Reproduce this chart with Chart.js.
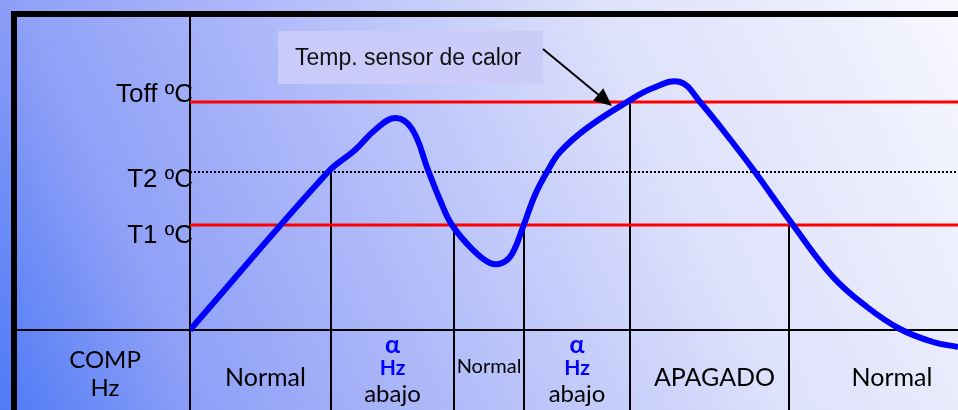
<!DOCTYPE html>
<html>
<head>
<meta charset="utf-8">
<script src="https://cdn.jsdelivr.net/npm/chart.js@4.4.0/dist/chart.umd.min.js"></script>
<style>
  html, body { margin: 0; padding: 0; }
  body {
    width: 958px; height: 410px; overflow: hidden;
    background: linear-gradient(65deg, #4e7af6 0%, #8fa0f7 18%, #b0bbf9 40%, #dde1fb 68%, #eaecfc 85%, #f7f8ff 100%);
  }
</style>
</head>
<body>
<canvas id="sensorChart" width="958" height="410"></canvas>
<script>
// Temperature thresholds
const thresholdNames = ['Toff ºC', 'T2 ºC', 'T1 ºC'];
const thresholdValues = [228, 158, 105];

// Heat sensor temperature over time
const timeValues = [0, 138, 165, 185, 205, 222, 238, 250, 262, 283, 300, 312, 322, 333, 345, 357, 370, 397, 437, 463, 490, 510, 543, 565, 603, 643, 677, 710, 743, 768];
const tempValues = [0, 158, 180, 200, 212, 201, 160, 130, 105, 80, 67, 67, 76, 103, 135, 158, 178, 202, 228, 242, 248, 228, 187, 158, 105, 53, 23, 1, -12, -17];

// Compressor phases: time boundaries, level where each inner boundary starts, names
const phaseEdges = [0, 141, 264, 334, 440, 599, 795];
const edgeLevels = [158, 105, 105, 228, 105];
const phaseNames = [['Normal'], ['α', 'Hz', 'abajo'], ['Normal'], ['α', 'Hz', 'abajo'], ['APAGADO'], ['Normal']];
const rowTitle = ['COMP', 'Hz'];

const noteText = 'Temp. sensor de calor';

const X_MAX = 768, Y_MIN = -80, Y_MAX = 313;

const datasets = [{
  data: timeValues.map((t, i) => ({ x: t, y: tempValues[i] })),
  borderColor: '#0000ff',
  borderWidth: 6,
  tension: 0.4,
  pointRadius: 0
}];

thresholdValues.forEach((v, i) => {
  const dotted = thresholdNames[i].startsWith('T2');
  datasets.push({
    data: [{ x: 0, y: v }, { x: X_MAX, y: v }],
    borderColor: dotted ? '#000000' : '#ff0000',
    borderWidth: dotted ? 2 : 3,
    borderDash: dotted ? [2, 2] : [],
    pointRadius: 0
  });
});

edgeLevels.forEach((lvl, i) => {
  const x = phaseEdges[i + 1];
  datasets.push({
    data: [{ x: x, y: lvl }, { x: x, y: Y_MIN }],
    borderColor: '#000000',
    borderWidth: 2,
    pointRadius: 0
  });
});

// frame, axis lines and all the text
const decor = {
  id: 'decor',
  beforeDatasetsDraw(chart) {
    const ctx = chart.ctx, xs = chart.scales.x, ys = chart.scales.y;
    const area = chart.chartArea;
    ctx.save();
    ctx.fillStyle = '#000';
    ctx.fillRect(11, 11, chart.width, 6);
    ctx.fillRect(11, 11, 6, chart.height);
    ctx.strokeStyle = '#000';
    ctx.lineWidth = 2;
    const x0 = xs.getPixelForValue(0), y0 = ys.getPixelForValue(0);
    ctx.beginPath();
    ctx.moveTo(x0, area.top); ctx.lineTo(x0, area.bottom);
    ctx.moveTo(17, y0); ctx.lineTo(chart.width, y0);
    ctx.stroke();
    ctx.restore();
  },
  afterDatasetsDraw(chart) {
    const ctx = chart.ctx, xs = chart.scales.x, ys = chart.scales.y;
    const y0 = ys.getPixelForValue(0);
    const x0 = xs.getPixelForValue(0);
    ctx.save();
    ctx.fillStyle = '#000';

    // threshold labels
    const drop = [0, 15, 18];
    ctx.font = '26px "Liberation Sans"';
    ctx.textAlign = 'right';
    ctx.textBaseline = 'alphabetic';
    thresholdNames.forEach((n, i) => {
      ctx.fillText(n, x0 + 3, ys.getPixelForValue(thresholdValues[i]) + drop[i]);
    });

    // row title
    ctx.textAlign = 'center';
    ctx.font = '24px Lato';
    ctx.fillText(rowTitle[0], 105, y0 + 38);
    ctx.fillText(rowTitle[1], 105, y0 + 66);

    // phase labels
    phaseNames.forEach((lines, i) => {
      const cx = xs.getPixelForValue((phaseEdges[i] + phaseEdges[i + 1]) / 2);
      const w = xs.getPixelForValue(phaseEdges[i + 1]) - xs.getPixelForValue(phaseEdges[i]);
      if (lines.length === 3) {
        ctx.fillStyle = '#0000ff';
        ctx.font = 'bold 25px Lato';
        ctx.fillText(lines[0], cx, y0 + 23);
        ctx.font = 'bold 21px Lato';
        ctx.fillText(lines[1], cx, y0 + 45);
        ctx.fillStyle = '#000';
        ctx.font = '24px Lato';
        ctx.fillText(lines[2], cx, y0 + 72);
      } else if (w < 100) {
        ctx.font = '20px Lato';
        ctx.fillText(lines[0], cx, y0 + 43);
      } else {
        ctx.font = '25px Lato';
        ctx.fillText(lines[0], cx + 5, y0 + 56);
      }
    });

    // note box with arrow to the curve
    const bx1 = xs.getPixelForValue(88), bx2 = xs.getPixelForValue(353);
    const by1 = ys.getPixelForValue(299), by2 = ys.getPixelForValue(246);
    ctx.fillStyle = 'rgba(203, 203, 249, 0.95)';
    ctx.fillRect(bx1, by1, bx2 - bx1, by2 - by1);
    ctx.fillStyle = '#111';
    ctx.textAlign = 'left';
    ctx.textBaseline = 'middle';
    ctx.font = '23px "Liberation Sans", Arial';
    ctx.fillText(noteText, bx1 + 17, (by1 + by2) / 2 + 1);

    const ax = bx2, ay = ys.getPixelForValue(281);
    const tx = xs.getPixelForValue(422), ty = ys.getPixelForValue(224);
    const ang = Math.atan2(ty - ay, tx - ax);
    const len = 18, half = 8;
    const bxh = tx - len * Math.cos(ang), byh = ty - len * Math.sin(ang);
    ctx.strokeStyle = '#000';
    ctx.lineWidth = 2;
    ctx.beginPath();
    ctx.moveTo(ax, ay); ctx.lineTo(bxh, byh);
    ctx.stroke();
    ctx.beginPath();
    ctx.moveTo(tx, ty);
    ctx.lineTo(bxh + half * Math.sin(ang), byh - half * Math.cos(ang));
    ctx.lineTo(bxh - half * Math.sin(ang), byh + half * Math.cos(ang));
    ctx.closePath();
    ctx.fillStyle = '#000';
    ctx.fill();
    ctx.restore();
  }
};

new Chart(document.getElementById('sensorChart'), {
  type: 'line',
  data: { datasets: datasets },
  options: {
    responsive: false,
    animation: false,
    layout: { padding: { left: 190, top: 17, right: 0, bottom: 0 } },
    scales: {
      x: { type: 'linear', min: 0, max: X_MAX, display: false },
      y: { type: 'linear', min: Y_MIN, max: Y_MAX, display: false }
    },
    plugins: { legend: { display: false }, tooltip: { enabled: false } }
  },
  plugins: [decor]
});
</script>
</body>
</html>
